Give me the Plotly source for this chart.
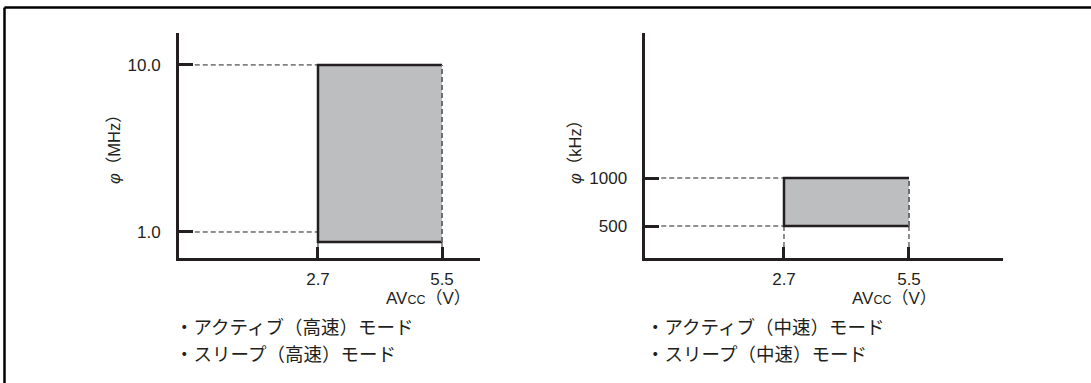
import plotly.graph_objects as go

# ---- data ----
voltage_range = [2.7, 5.5]            # AVcc (V)
voltage_ticks = ["2.7", "5.5"]
mhz_values = [1.0, 10.0]              # φ (MHz), high-speed modes
mhz_ticks = ["1.0", "10.0"]
mhz_box_floor = 0.46                  # box drawn slightly below 1.0 MHz
khz_values = [500, 1000]              # φ (kHz), medium-speed modes
khz_ticks = ["500", "1000"]
left_modes = ["・アクティブ（高速）モード", "・スリープ（高速）モード"]
right_modes = ["・アクティブ（中速）モード", "・スリープ（中速）モード"]

W, H = 1091, 383
DARK = "#231f20"
FILL = "#bcbec0"
NUM_FONT = "Liberation Sans, Arial, Noto Sans CJK JP"
JP_FONT = "Noto Sans CJK JP, Liberation Sans"

def px(x):
    return x / W

def py(y):
    return 1 - y / H

# axis ranges (chosen so the drawing matches the reference geometry)
xr1 = [-0.444, 6.358]
yr1 = [-0.388, 11.72]
xr2 = [-0.408, 7.606]
yr2 = [169.3, 2510.4]

fig = go.Figure()

def add_panel(xa, ya, xr, yr, lo, hi, ylevels):
    v0, v1 = voltage_range
    # shaded operating region
    fig.add_trace(go.Scatter(x=[v0, v1, v1, v0, v0], y=[lo, lo, hi, hi, lo],
                             mode="lines", fill="toself", fillcolor=FILL,
                             line=dict(width=0), xaxis=xa, yaxis=ya,
                             hoverinfo="skip"))
    # dashed horizontal guides from y axis to box
    hx, hy = [], []
    for f in ylevels:
        hx += [xr[0], v0, None]
        hy += [f, f, None]
    fig.add_trace(go.Scatter(x=hx, y=hy, mode="lines",
                             line=dict(color=DARK, width=1, dash="5px,3px"),
                             xaxis=xa, yaxis=ya, hoverinfo="skip"))
    # dashed vertical guides from box to x axis
    fig.add_trace(go.Scatter(x=[v0, v0, None, v1, v1], y=[lo, yr[0], None, lo, yr[0]],
                             mode="lines",
                             line=dict(color=DARK, width=1, dash="5px,3px"),
                             xaxis=xa, yaxis=ya, hoverinfo="skip"))
    # solid box edges (bottom, left, top)
    fig.add_trace(go.Scatter(x=[v1, v0, v0, v1], y=[lo, lo, hi, hi], mode="lines",
                             line=dict(color=DARK, width=2.5),
                             xaxis=xa, yaxis=ya, hoverinfo="skip"))
    # right edge, dashed gray
    fig.add_trace(go.Scatter(x=[v1, v1], y=[lo, hi], mode="lines",
                             line=dict(color="#6d6e71", width=2, dash="5px,3px"),
                             xaxis=xa, yaxis=ya, hoverinfo="skip"))

add_panel("x", "y", xr1, yr1, mhz_box_floor, mhz_values[1], mhz_values)
add_panel("x2", "y2", xr2, yr2, khz_values[0], khz_values[1], khz_values)

common_x = dict(showline=True, linewidth=2.5, linecolor=DARK, ticks="inside",
                ticklen=11, tickwidth=2.5, tickcolor=DARK, showgrid=False,
                zeroline=False, tickfont=dict(family=NUM_FONT, size=17, color=DARK),
                tickvals=voltage_range, ticktext=voltage_ticks, fixedrange=True,
                ticklabelstandoff=4)
common_y = dict(showline=True, linewidth=2.5, linecolor=DARK, ticks="inside",
                ticklen=14, tickwidth=2.5, tickcolor=DARK, showgrid=False,
                zeroline=False, tickfont=dict(family=NUM_FONT, size=17, color=DARK),
                fixedrange=True, ticklabelstandoff=12)

fig.update_layout(
    width=W, height=H, margin=dict(l=0, r=0, t=0, b=0),
    paper_bgcolor="white", plot_bgcolor="rgba(0,0,0,0)", showlegend=False,
    xaxis=dict(domain=[px(178.75), px(480)], range=xr1, anchor="y", **common_x),
    yaxis=dict(domain=[py(257.75), py(33)], range=yr1, anchor="x",
               tickvals=mhz_values, ticktext=mhz_ticks, **common_y),
    xaxis2=dict(domain=[px(645.25), px(1003)], range=xr2, anchor="y2", **common_x),
    yaxis2=dict(domain=[py(257.75), py(33)], range=yr2, anchor="x2",
                tickvals=khz_values, ticktext=khz_ticks, **common_y),
)

# frame (top and left border)
fig.add_shape(type="line", xref="paper", yref="paper", x0=px(4.5), x1=1.0,
              y0=py(7.5), y1=py(7.5), line=dict(color="black", width=2.5))
fig.add_shape(type="line", xref="paper", yref="paper", x0=px(4.5), x1=px(4.5),
              y0=py(7.5), y1=0, line=dict(color="black", width=2.5))

# y-axis titles
fig.add_annotation(text="<i>φ</i>（MHz）", xref="paper", yref="paper",
                   x=px(103), y=py(145), textangle=-90, showarrow=False,
                   font=dict(family=NUM_FONT, size=16.5, color=DARK))
fig.add_annotation(text="<i>φ</i>（kHz）", xref="paper", yref="paper",
                   x=px(575), y=py(148), textangle=-90, showarrow=False,
                   font=dict(family=NUM_FONT, size=16.5, color=DARK))

# x-axis titles
for xr in ["x", "x2"]:
    fig.add_annotation(text="AV<span style='font-size:12.5px'>CC</span>（V）",
                       xref=xr, yref="paper", x=voltage_range[1], xshift=-14,
                       y=py(298), yanchor="middle", showarrow=False,
                       font=dict(family=NUM_FONT, size=17, color=DARK))

# mode lists
for modes, x0 in [(left_modes, 173), (right_modes, 644)]:
    for i, m in enumerate(modes):
        fig.add_annotation(text=m, xref="paper", yref="paper", x=px(x0),
                           y=py(326 + 27 * i), xanchor="left", yanchor="middle",
                           showarrow=False,
                           font=dict(family=JP_FONT, size=18.5, color=DARK))

fig.write_html("out.html", post_script="document.body.style.margin='0';",
               config={"displayModeBar": False})
